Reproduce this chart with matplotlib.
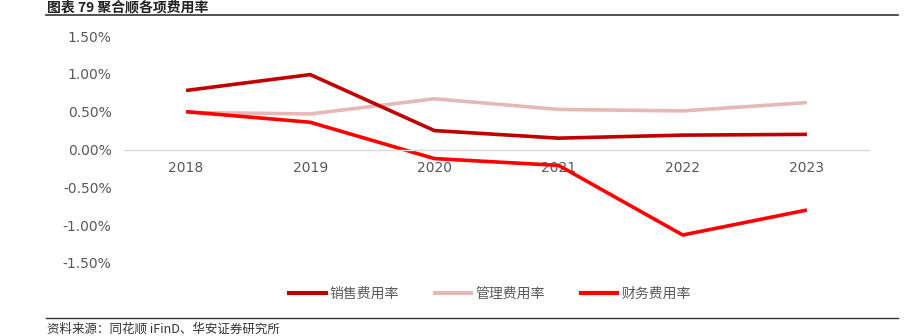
import numpy as np
import matplotlib
matplotlib.use('Agg')
import matplotlib.pyplot as plt
from matplotlib.lines import Line2D
from matplotlib.ticker import FuncFormatter

plt.rcParams['font.family'] = ['Noto Sans CJK SC', 'DejaVu Sans']

# Data (percent)
years = ['2018', '2019', '2020', '2021', '2022', '2023']
sales_rate = [0.78, 0.99, 0.25, 0.15, 0.19, 0.20]
admin_rate = [0.49, 0.47, 0.67, 0.53, 0.51, 0.62]
finance_rate = [0.50, 0.36, -0.12, -0.21, -1.13, -0.80]
series_names = ['销售费用率', '管理费用率', '财务费用率']
series_colors = ['#C00000', '#E6B9B8', '#FF0000']

title_text = '图表 79 聚合顺各项费用率'
source_text = '资料来源：同花顺 iFinD、华安证券研究所'

fig = plt.figure(figsize=(9.05, 3.36), dpi=100)
ax = fig.add_axes([124/905, 1 - 263/336, (869 - 124)/905, (263 - 36)/336])

x = np.arange(len(years))
for vals, name, col in zip([sales_rate, admin_rate, finance_rate], series_names, series_colors):
    ax.plot(x, vals, color=col, lw=2.6, label=name, solid_capstyle='butt', solid_joinstyle='miter')

# admin line sits behind the others like the reference
ax.lines[1].set_zorder(1.5)

ax.set_xlim(-0.5, len(years) - 0.5)
ax.set_ylim(-1.5, 1.5)
ax.set_yticks([-1.5, -1.0, -0.5, 0.0, 0.5, 1.0, 1.5])
ax.yaxis.set_major_formatter(FuncFormatter(lambda v, p: f'{v:.2f}%'))
ax.set_xticks(x)
ax.set_xticklabels(years)

for s in ['top', 'right', 'left']:
    ax.spines[s].set_visible(False)
ax.spines['bottom'].set_position(('data', 0))
ax.spines['bottom'].set_color('#D9D9D9')
ax.spines['bottom'].set_linewidth(1.0)
ax.tick_params(axis='both', length=0, labelsize=10, labelcolor='#595959')
ax.tick_params(axis='y', pad=9)
ax.tick_params(axis='x', pad=8)
for lab in ax.get_xticklabels() + ax.get_yticklabels():
    lab.set_family(['DejaVu Sans'])

handles = [Line2D([], [], color=c, lw=3) for c in series_colors]
fig.legend(handles, series_names, loc='center', bbox_to_anchor=(490/905, 1 - 294/336),
           ncol=3, frameon=False, fontsize=10, handlelength=2.6, handletextpad=0.3,
           columnspacing=2.6, labelcolor='#595959')

# header / footer
fig.text(47/905, 1 - 0.5/336, title_text, fontsize=10, fontweight='bold', va='top', ha='left', color='#222222')
fig.add_artist(Line2D([46/905, 898/905], [1 - 15/336, 1 - 15/336], color='#333333', lw=1.2))
fig.add_artist(Line2D([46/905, 898/905], [1 - 318/336, 1 - 318/336], color='#333333', lw=1.0))
fig.text(47/905, 1 - 329/336, source_text, fontsize=9, va='center', ha='left', color='#333333')

fig.savefig('out.png', dpi=100)
